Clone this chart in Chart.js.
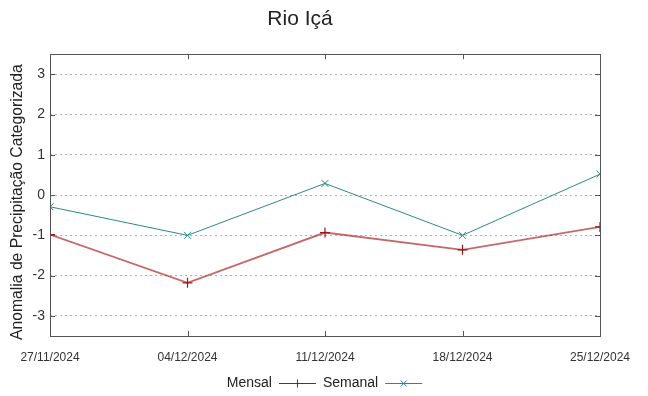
<!DOCTYPE html>
<html>
<head>
<meta charset="utf-8">
<script src="https://cdn.jsdelivr.net/npm/chart.js@4/dist/chart.umd.min.js"></script>
<style>
  html, body { margin: 0; padding: 0; background: #fff; }
  #caixa { width: 648px; height: 396px; }
</style>
</head>
<body>
<div id="caixa"><canvas id="grafico" width="648" height="396"></canvas></div>
<script>
var titulo = 'Rio Içá';
var tituloEixoY = 'Anomalia de Precipitação Categorizada';
var datas = ['27/11/2024', '04/12/2024', '11/12/2024', '18/12/2024', '25/12/2024'];
var mensal = [-0.98, -2.18, -0.93, -1.36, -0.79];
var semanal = [-0.29, -1.0, 0.29, -1.0, 0.52];
var ticksY = [-3, -2, -1, 0, 1, 2, 3];

var corMensal = '#a01414';
var corMensalLinha = 'rgba(175, 40, 40, 0.7)';
var corSemanal = '#2a8a8a';
var fonteTexto = "'Liberation Sans', Arial, sans-serif";

// moldura do gráfico com as marcas de escala para dentro (estilo gnuplot)
var moldura = {
  id: 'moldura',
  afterDraw: function(chart) {
    var ctx = chart.ctx;
    var area = chart.chartArea;
    var sx = chart.scales.x;
    var sy = chart.scales.y;
    var tam = 5;
    ctx.save();
    ctx.strokeStyle = '#555';
    ctx.lineWidth = 1;
    ctx.strokeRect(Math.round(area.left) + 0.5, Math.round(area.top) + 0.5,
      Math.round(area.right - area.left), Math.round(area.bottom - area.top));
    ctx.beginPath();
    sy.ticks.forEach(function(t) {
      var y = Math.round(sy.getPixelForValue(t.value)) + 0.5;
      ctx.moveTo(area.left, y); ctx.lineTo(area.left + tam, y);
      ctx.moveTo(area.right, y); ctx.lineTo(area.right - tam, y);
    });
    datas.forEach(function(d, i) {
      var x = Math.round(sx.getPixelForValue(i)) + 0.5;
      ctx.moveTo(x, area.top); ctx.lineTo(x, area.top + tam);
      ctx.moveTo(x, area.bottom); ctx.lineTo(x, area.bottom - tam);
    });
    ctx.stroke();

    // título do eixo Y, um pouco abaixo do centro como no gnuplot
    ctx.save();
    ctx.translate(18, (area.top + area.bottom) / 2 + 7);
    ctx.rotate(-Math.PI / 2);
    ctx.font = '15.7px ' + fonteTexto;
    ctx.fillStyle = '#222';
    ctx.textAlign = 'center';
    ctx.textBaseline = 'middle';
    ctx.fillText(tituloEixoY, 0, 0);
    ctx.restore();
    ctx.restore();
  }
};

// legenda no rodapé: texto e depois a amostra da linha
var legenda = {
  id: 'legenda',
  afterDraw: function(chart) {
    var ctx = chart.ctx;
    var area = chart.chartArea;
    var y = 383.5;
    var amostra = 37;
    var gap = 7;
    ctx.save();
    ctx.font = '14px ' + fonteTexto;
    ctx.textBaseline = 'middle';
    ctx.textAlign = 'left';
    var itens = chart.data.datasets.map(function(ds) {
      return { texto: ds.label, cor: ds.pointBorderColor, estilo: ds.pointStyle, w: ctx.measureText(ds.label).width };
    });
    var total = 0;
    itens.forEach(function(it) { total += it.w + gap + amostra + gap; });
    var x = (area.left + area.right) / 2 - total / 2 + 3;
    itens.forEach(function(it) {
      ctx.fillStyle = '#222';
      ctx.fillText(it.texto, x, y);
      x += it.w + gap;
      ctx.strokeStyle = it.cor;
      ctx.lineWidth = 1;
      ctx.beginPath();
      ctx.moveTo(x, y); ctx.lineTo(x + amostra, y);
      var cx = x + amostra / 2;
      if (it.estilo === 'cross') {
        ctx.moveTo(cx, y - 4); ctx.lineTo(cx, y + 4);
      } else {
        ctx.moveTo(cx - 3, y - 3); ctx.lineTo(cx + 3, y + 3);
        ctx.moveTo(cx - 3, y + 3); ctx.lineTo(cx + 3, y - 3);
      }
      ctx.stroke();
      x += amostra + gap;
    });
    ctx.restore();
  }
};

var ctxGrafico = document.getElementById('grafico').getContext('2d');
var grafico = new Chart(ctxGrafico, {
  type: 'line',
  data: {
    labels: datas,
    datasets: [{
      label: 'Mensal',
      data: mensal,
      borderColor: corMensalLinha,
      borderWidth: 1.8,
      pointStyle: 'cross',
      pointRadius: 5,
      pointBorderColor: corMensal,
      pointBorderWidth: 1.2,
      pointBackgroundColor: corMensal,
      tension: 0,
      clip: 0
    }, {
      label: 'Semanal',
      data: semanal,
      borderColor: corSemanal,
      borderWidth: 1,
      pointStyle: 'crossRot',
      pointRadius: 5,
      pointBorderColor: corSemanal,
      pointBorderWidth: 1,
      pointBackgroundColor: corSemanal,
      tension: 0,
      clip: 0
    }]
  },
  options: {
    responsive: false,
    animation: false,
    layout: {
      padding: { left: 0, right: 48, top: 0, bottom: 0 }
    },
    plugins: {
      legend: { display: false },
      tooltip: { enabled: false },
      title: {
        display: true,
        text: titulo,
        color: '#222',
        font: { family: fonteTexto, size: 21, weight: 'normal' },
        padding: { top: 7, bottom: 22 }
      }
    },
    scales: {
      x: {
        type: 'category',
        offset: false,
        grid: { display: false, drawTicks: false },
        border: { display: false },
        ticks: {
          color: '#333',
          font: { family: fonteTexto, size: 12 },
          padding: 14,
          maxRotation: 0,
          autoSkip: false
        },
        afterFit: function(scale) { scale.height = 60; }
      },
      y: {
        min: -3.5,
        max: 3.5,
        afterBuildTicks: function(scale) {
          scale.ticks = ticksY.map(function(v) { return { value: v }; });
        },
        grid: {
          color: '#b0b0b0',
          lineWidth: 1,
          drawTicks: false
        },
        border: { display: false, dash: [2, 3] },
        ticks: {
          color: '#333',
          font: { family: fonteTexto, size: 14 },
          padding: 5
        },
        afterFit: function(scale) { scale.width = 50; }
      }
    }
  },
  plugins: [moldura, legenda]
});
</script>
</body>
</html>
